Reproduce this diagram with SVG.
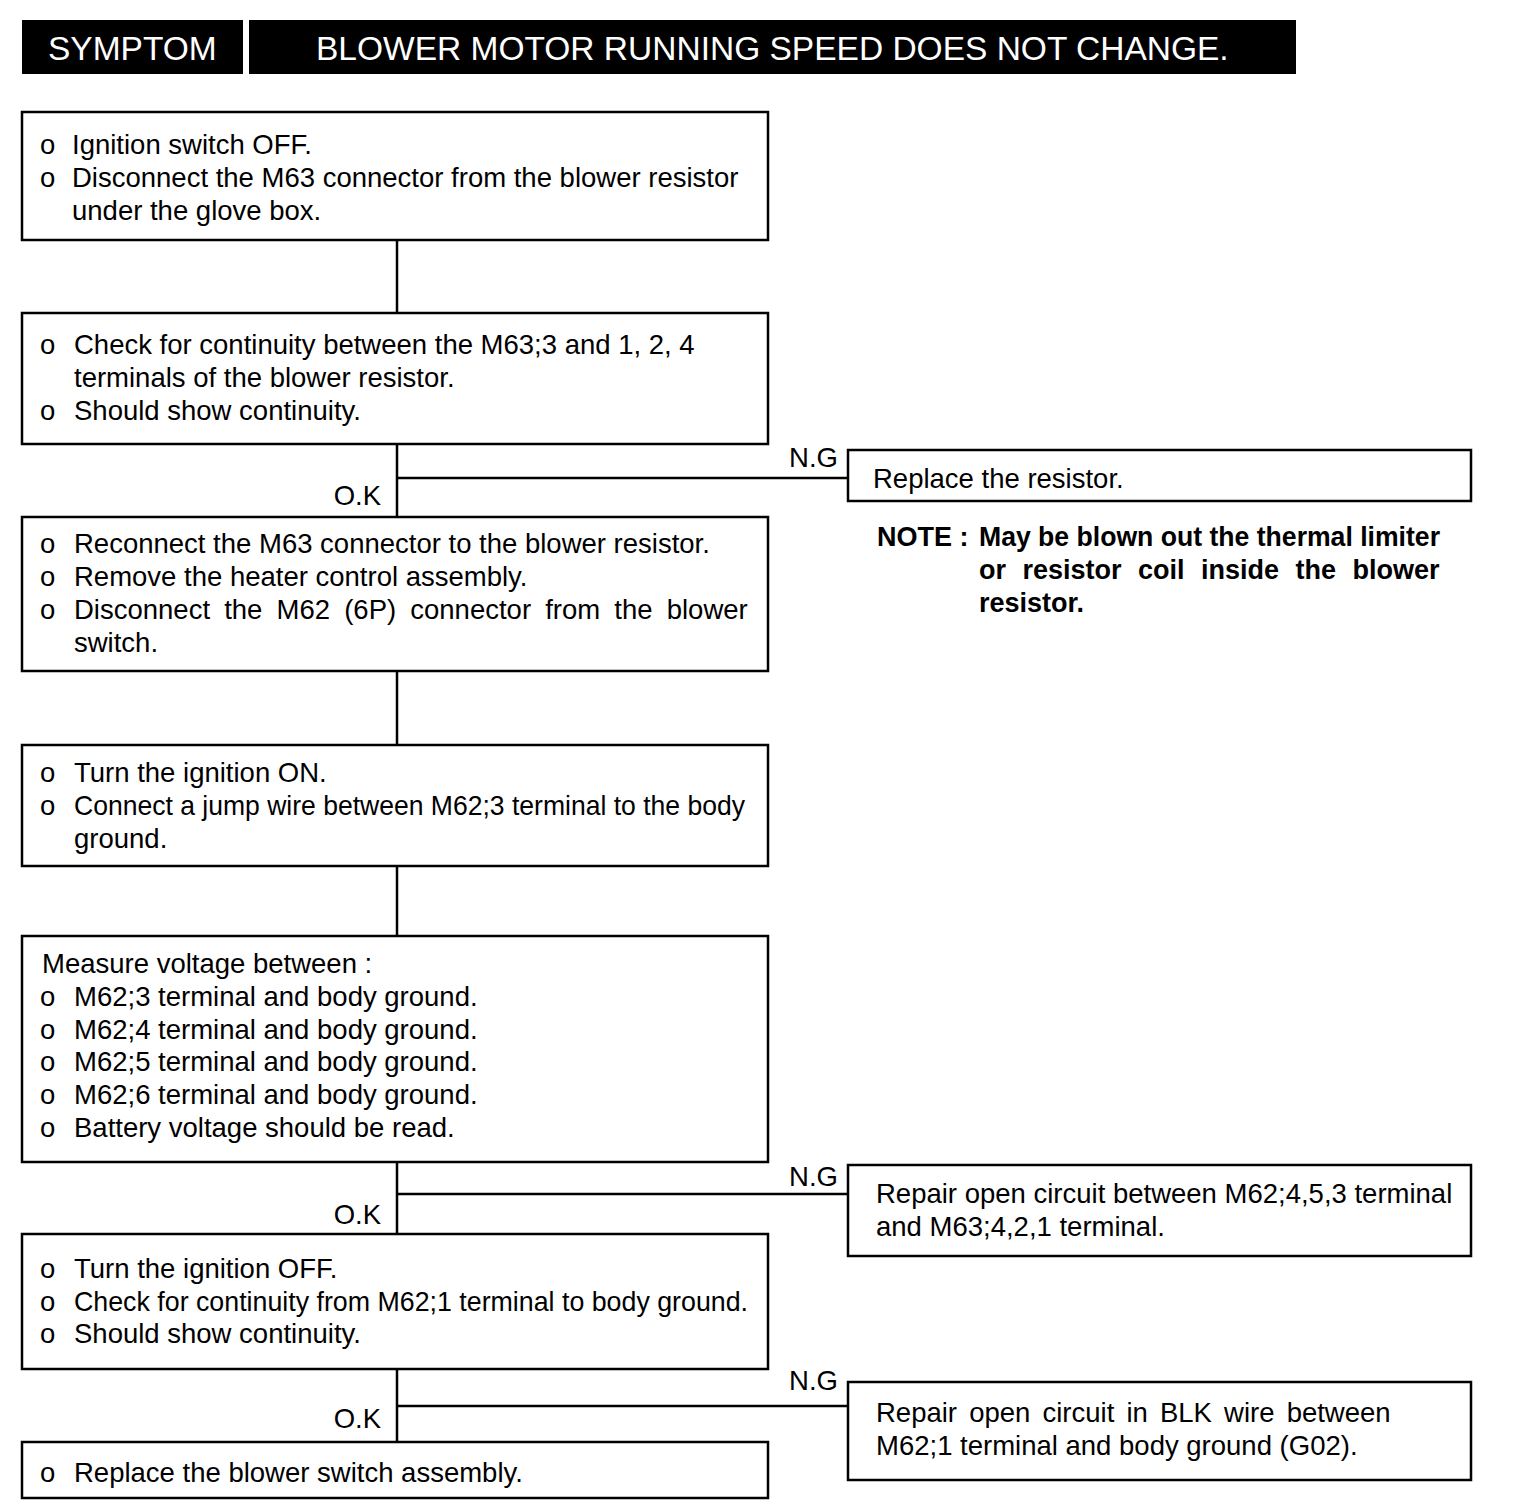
<svg xmlns="http://www.w3.org/2000/svg" width="1520" height="1502" viewBox="0 0 1520 1502">
<style>
.box{fill:#fff;stroke:#000;stroke-width:2.5}
.t{font-family:"Liberation Sans",Arial,sans-serif;font-size:27.5px;fill:#000}
.b{font-family:"Liberation Sans",Arial,sans-serif;font-size:27px;font-weight:bold;fill:#000}
.h{font-family:"Liberation Sans",Arial,sans-serif;font-size:33.5px;fill:#fff}
.c{fill:none;stroke:#000;stroke-width:2.5}
</style>
<rect width="1520" height="1502" fill="#fff"/>
<g id="header">
<rect x="22" y="20" width="221" height="54" fill="#000"/>
<rect x="249" y="20" width="1047" height="54" fill="#000"/>
<text class="h" x="48" y="60">SYMPTOM</text>
<text class="h" x="316" y="60">BLOWER MOTOR RUNNING SPEED DOES NOT CHANGE.</text>
</g>
<g id="connectors">
<path class="c" d="M397 240V313"/>
<path class="c" d="M397 444V517M397 478H848"/>
<path class="c" d="M397 671V745"/>
<path class="c" d="M397 866V936"/>
<path class="c" d="M397 1162V1234M397 1194H848"/>
<path class="c" d="M397 1369V1442M397 1406H848"/>
<text class="t" x="838" y="467" text-anchor="end">N.G</text>
<text class="t" x="381" y="505" text-anchor="end">O.K</text>
<text class="t" x="838" y="1186" text-anchor="end">N.G</text>
<text class="t" x="381" y="1224" text-anchor="end">O.K</text>
<text class="t" x="838" y="1390" text-anchor="end">N.G</text>
<text class="t" x="381" y="1428" text-anchor="end">O.K</text>
</g>
<g id="n1">
<rect class="box" x="22" y="112" width="746" height="128"/>
<text class="t" x="40" y="154">o</text><text class="t" x="72" y="154">Ignition switch OFF.</text>
<text class="t" x="40" y="187">o</text><text class="t" x="72" y="187">Disconnect the M63 connector from the blower resistor</text>
<text class="t" x="72" y="220">under the glove box.</text>
</g>
<g id="n2">
<rect class="box" x="22" y="313" width="746" height="131"/>
<text class="t" x="40" y="354">o</text><text class="t" x="74" y="354">Check for continuity between the M63;3 and 1, 2, 4</text>
<text class="t" x="74" y="387">terminals of the blower resistor.</text>
<text class="t" x="40" y="420">o</text><text class="t" x="74" y="420">Should show continuity.</text>
</g>
<g id="n3">
<rect class="box" x="848" y="450" width="623" height="51"/>
<text class="t" x="873" y="488">Replace the resistor.</text>
</g>
<g id="note">
<text class="b" x="877" y="546">NOTE :</text>
<text class="b" x="979" y="546" textLength="461" lengthAdjust="spacingAndGlyphs">May be blown out the thermal limiter</text>
<text class="b" x="979" y="579" word-spacing="9">or resistor coil inside the blower</text>
<text class="b" x="979" y="612">resistor.</text>
</g>
<g id="n4">
<rect class="box" x="22" y="517" width="746" height="154"/>
<text class="t" x="40" y="553">o</text><text class="t" x="74" y="553">Reconnect the M63 connector to the blower resistor.</text>
<text class="t" x="40" y="586">o</text><text class="t" x="74" y="586">Remove the heater control assembly.</text>
<text class="t" x="40" y="619">o</text><text class="t" x="74" y="619" word-spacing="6.5">Disconnect the M62 (6P) connector from the blower</text>
<text class="t" x="74" y="652">switch.</text>
</g>
<g id="n5">
<rect class="box" x="22" y="745" width="746" height="121"/>
<text class="t" x="40" y="782">o</text><text class="t" x="74" y="782">Turn the ignition ON.</text>
<text class="t" x="40" y="815">o</text><text class="t" x="74" y="815" textLength="671" lengthAdjust="spacingAndGlyphs">Connect a jump wire between M62;3 terminal to the body</text>
<text class="t" x="74" y="848">ground.</text>
</g>
<g id="n6">
<rect class="box" x="22" y="936" width="746" height="226"/>
<text class="t" x="42" y="973">Measure voltage between :</text>
<text class="t" x="40" y="1006">o</text><text class="t" x="74" y="1006">M62;3 terminal and body ground.</text>
<text class="t" x="40" y="1039">o</text><text class="t" x="74" y="1039">M62;4 terminal and body ground.</text>
<text class="t" x="40" y="1071">o</text><text class="t" x="74" y="1071">M62;5 terminal and body ground.</text>
<text class="t" x="40" y="1104">o</text><text class="t" x="74" y="1104">M62;6 terminal and body ground.</text>
<text class="t" x="40" y="1137">o</text><text class="t" x="74" y="1137">Battery voltage should be read.</text>
</g>
<g id="n7">
<rect class="box" x="848" y="1165" width="623" height="91"/>
<text class="t" x="876" y="1203">Repair open circuit between M62;4,5,3 terminal</text>
<text class="t" x="876" y="1236">and M63;4,2,1 terminal.</text>
</g>
<g id="n8">
<rect class="box" x="22" y="1234" width="746" height="135"/>
<text class="t" x="40" y="1278">o</text><text class="t" x="74" y="1278">Turn the ignition OFF.</text>
<text class="t" x="40" y="1311">o</text><text class="t" x="74" y="1311" textLength="674" lengthAdjust="spacingAndGlyphs">Check for continuity from M62;1 terminal to body ground.</text>
<text class="t" x="40" y="1343">o</text><text class="t" x="74" y="1343">Should show continuity.</text>
</g>
<g id="n9">
<rect class="box" x="848" y="1382" width="623" height="98"/>
<text class="t" x="876" y="1422" word-spacing="4.5">Repair open circuit in BLK wire between</text>
<text class="t" x="876" y="1455">M62;1 terminal and body ground (G02).</text>
</g>
<g id="n10">
<rect class="box" x="22" y="1442" width="746" height="56"/>
<text class="t" x="40" y="1482">o</text><text class="t" x="74" y="1482">Replace the blower switch assembly.</text>
</g>
</svg>
